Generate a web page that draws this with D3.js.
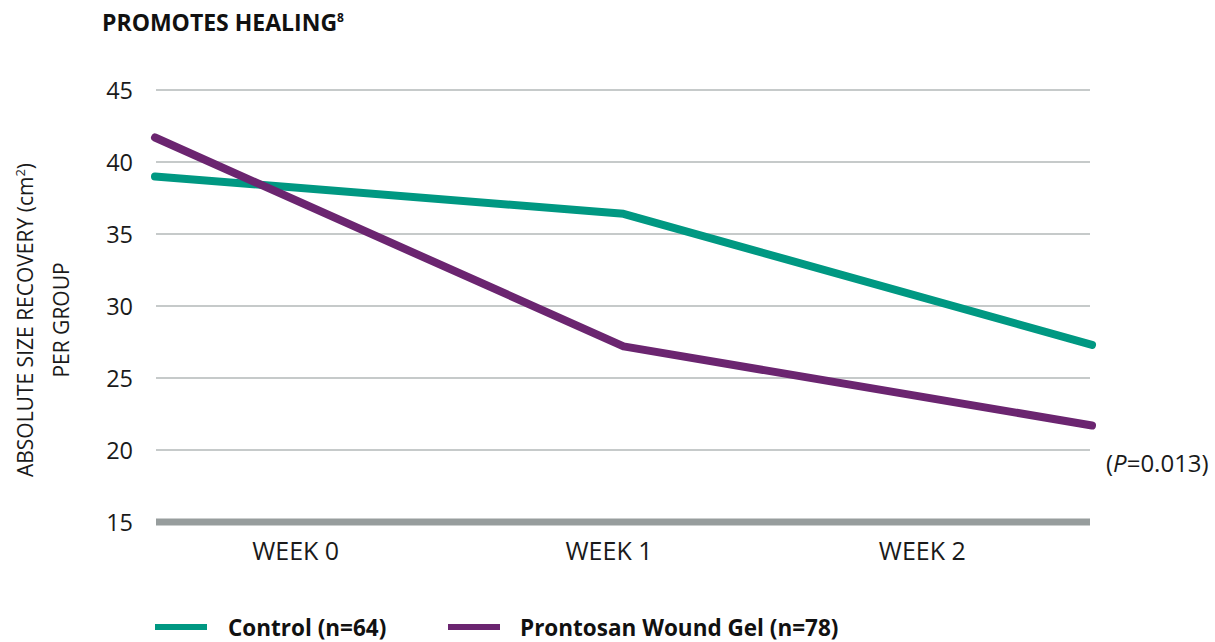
<!DOCTYPE html>
<html><head><meta charset="utf-8">
<script src="https://cdn.jsdelivr.net/npm/d3@7"></script>
<style>body{margin:0;background:#fff}svg{display:block}text{font-family:"Open Sans","DejaVu Sans",sans-serif}</style>
</head><body><svg id="c" width="1215" height="642"></svg>
<script>
const categories = ["WEEK 0","WEEK 1","WEEK 2"];
const controlValues = [39.0, 36.4, 27.3];
const prontosanValues = [41.7, 27.2, 21.7];
const yTicks = [15,20,25,30,35,40,45];
const seriesNames = ["Control (n=64)", "Prontosan Wound Gel (n=78)"];
const colors = ["#009882", "#6b2570"];

const svg = d3.select("#c");
const y = d3.scaleLinear().domain([15,45]).range([522,90]);
const xPt = d3.scalePoint().domain(categories).range([155,1092]);
const xBand = d3.scaleBand().domain(categories).range([139,1079]);

// grid
svg.append("g").selectAll("line").data(yTicks.filter(d=>d>15)).join("line")
  .attr("x1",156).attr("x2",1090).attr("y1",d=>y(d)).attr("y2",d=>y(d))
  .attr("stroke","#b3b8b8").attr("stroke-width",1.5);
svg.append("line").attr("x1",156).attr("x2",1090).attr("y1",y(15)).attr("y2",y(15))
  .attr("stroke","#979d9d").attr("stroke-width",7);

// y axis
const ya = svg.append("g").attr("transform","translate(133,0)")
  .call(d3.axisLeft(y).tickValues(yTicks).tickSize(0).tickPadding(0));
ya.select(".domain").remove();
ya.selectAll("text").attr("font-size",23.5).attr("fill","#1a1a1a").attr("font-family","Open Sans").attr("dy","0.35em");

// x axis labels
const xa = svg.append("g").attr("transform","translate(0,560)")
  .call(d3.axisBottom(xBand).tickSize(0).tickPadding(0));
xa.select(".domain").remove();
xa.selectAll("text").attr("font-size",25).attr("fill","#1a1a1a").attr("font-family","Open Sans").attr("dy","0");

// lines
const line = d3.line().x((d,i)=>xPt(categories[i])).y(d=>y(d));
[controlValues, prontosanValues].forEach((vals,i)=>{
  svg.append("path").datum(vals).attr("d",line).attr("fill","none")
    .attr("stroke",colors[i]).attr("stroke-width",8)
    .attr("stroke-linecap","round").attr("stroke-linejoin","round");
});

// title
svg.append("text").attr("x",102).attr("y",31).attr("font-size",23).attr("font-weight","bold")
  .attr("fill","#111").attr("font-family","Open Sans")
  .text("PROMOTES HEALING").append("tspan").attr("font-size",12).attr("dy",-9).text("8");

// y label
const yl = svg.append("text").attr("transform","translate(0,320) rotate(-90)")
  .attr("text-anchor","middle").attr("font-size",21).attr("fill","#1a1a1a");
yl.append("tspan").attr("x",0).attr("y",33).text("ABSOLUTE SIZE RECOVERY (cm")
  .append("tspan").attr("font-size",13).attr("dy",-8).text("2");
yl.append("tspan").attr("dy",8).text(")");
yl.append("tspan").attr("x",0).attr("y",69).text("PER GROUP");

// p value
const p = svg.append("text").attr("x",1106).attr("y",472).attr("font-size",24).attr("fill","#1a1a1a");
p.append("tspan").text("(");
p.append("tspan").attr("font-style","italic").text("P");
p.append("tspan").text("=0.013)");

// legend
const lg = [[155,228],[448,520]];
seriesNames.forEach((n,i)=>{
  svg.append("line").attr("x1",lg[i][0]).attr("x2",lg[i][0]+52).attr("y1",627).attr("y2",627)
    .attr("stroke",colors[i]).attr("stroke-width",6);
  svg.append("text").attr("x",lg[i][1]).attr("y",636).attr("font-size",22.5).attr("font-weight","bold")
    .attr("fill","#111").text(n);
});
</script></body></html>
